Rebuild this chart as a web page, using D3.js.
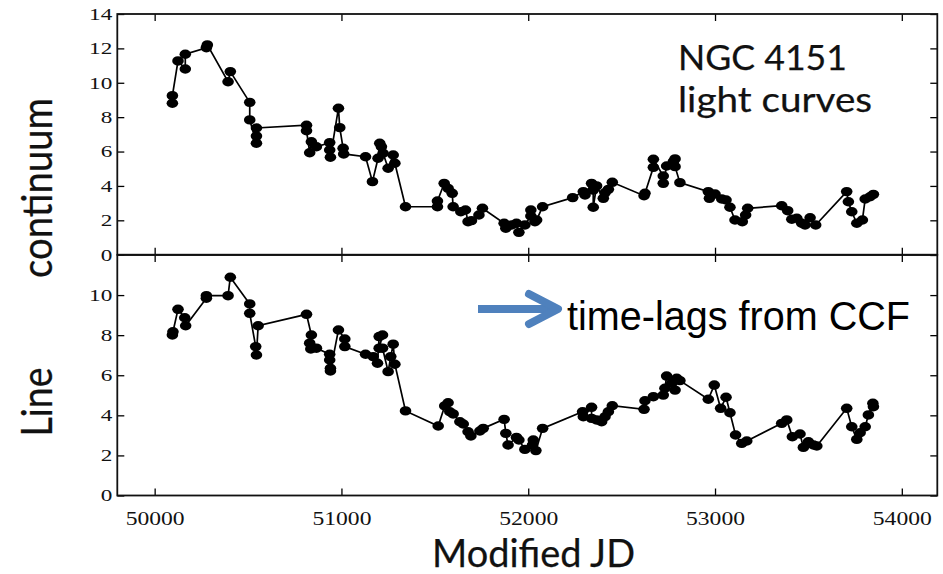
<!DOCTYPE html>
<html>
<head>
<meta charset="utf-8">
<script src="https://cdn.jsdelivr.net/npm/d3@7"></script>
<style>
  html, body { margin: 0; padding: 0; background: #fff; }
  svg { display: block; }
</style>
</head>
<body>
<svg id="chart" width="943" height="574"></svg>
<script>
// ---------- data ----------
const contMJD = [50095,50095,50125,50164,50164,50277,50282,50393,50405,50509,50509,50545,50545,50545,
  50813,50813,50830,50839,50866,50937,50937,50941,50984,50991,51009,51012,51129,51166,51196,51205,
  51214,51223,51250,51277,51286,51343,51514,51514,51550,51571,51593,51598,51639,51664,51678,51696,
  51736,51755,51871,51880,51911,51937,51950,51982,52014,52014,52036,52045,52077,52238,52295,52304,
  52339,52348,52348,52366,52402,52411,52429,52450,52620,52625,52670,52670,52723,52723,52741,52777,
  52786,52786,52812,52964,52970,53000,53036,53059,53080,53107,53146,53164,53175,53357,53389,53411,
  53438,53464,53482,53509,53539,53705,53714,53732,53759,53789,53804,53830,53848];
const contFlux = [8.81,9.25,11.27,10.8,11.66,12.04,12.2,10.06,10.65,8.86,7.84,6.48,6.9,7.37,
  7.53,7.21,5.93,6.57,6.28,6.52,6.09,5.67,8.52,7.39,6.19,5.86,5.7,4.25,5.61,6.48,
  6.28,5.9,5.03,5.8,5.32,2.79,2.79,3.12,4.15,3.86,3.57,2.79,2.5,2.6,1.92,1.98,
  2.31,2.7,1.83,1.54,1.73,1.83,1.3,1.73,2.25,2.6,1.92,2.02,2.79,3.32,3.67,3.47,
  4.15,3.76,2.76,4.0,3.28,3.6,3.8,4.21,3.43,3.57,5.08,5.55,4.58,4.15,5.16,5.41,
  5.57,5.12,4.19,3.67,3.28,3.53,3.24,3.18,2.76,2.02,1.92,2.31,2.7,2.85,2.56,2.06,
  2.12,1.83,1.73,2.15,1.73,3.67,3.08,2.5,1.83,2.02,3.24,3.37,3.51];

const lineMJD = [50095,50098,50125,50161,50166,50277,50277,50393,50405,50509,50509,50541,50545,50554,
  50813,50839,50830,50836,50866,50937,50937,50941,50941,50984,51018,51018,51129,51170,51193,51202,
  51220,51202,51220,51250,51264,51277,51286,51343,51518,51553,51571,51580,51598,51634,51652,51678,
  51693,51741,51759,51871,51880,51892,51937,51950,51982,52023,52027,52041,52077,52291,52295,52339,
  52339,52366,52393,52411,52429,52450,52620,52625,52670,52723,52732,52741,52768,52786,52795,52812,
  52964,52996,53030,53059,53080,53110,53143,53170,53357,53384,53414,53455,53473,53500,53527,53545,
  53705,53732,53759,53777,53804,53821,53845,53848];
const lineFlux = [8.01,8.17,9.29,8.87,8.47,9.84,9.97,9.97,10.89,9.56,9.09,7.43,7.01,8.47,
  9.04,8.01,7.6,7.31,7.35,7.05,6.76,6.35,6.21,8.26,7.81,7.43,7.05,6.93,6.6,7.93,
  8.01,7.35,7.35,6.18,6.93,7.55,6.55,4.22,3.47,4.47,4.63,4.18,4.07,3.68,3.57,3.18,
  2.97,3.22,3.35,3.8,3.1,2.52,2.9,2.77,2.3,2.52,2.77,2.24,3.35,4.18,3.93,4.4,
  3.85,3.77,3.68,3.93,4.18,4.48,4.3,4.73,4.93,5.01,5.35,5.96,5.6,5.26,5.85,5.73,
  4.8,5.51,4.35,4.9,4.13,3.02,2.6,2.72,3.6,3.77,2.93,3.07,2.4,2.68,2.52,2.47,
  4.35,3.43,2.8,3.13,3.43,4.02,4.6,4.43];

const xTicks = [50000, 51000, 52000, 53000, 54000];
const topYTicks = [0, 2, 4, 6, 8, 10, 12, 14];
const botYTicks = [0, 2, 4, 6, 8, 10];
const botYMinorTicks = [0, 2, 4, 6, 8, 10, 12];

// ---------- layout ----------
const svg = d3.select("#chart");
const L = 117.3, R = 937.3;
const topP = {y0: 14, y1: 254.7};
const botP = {y0: 255, y1: 495.5};

const x = d3.scaleLinear().domain([49800, 54190]).range([L, R]);
const yTop = d3.scaleLinear().domain([0, 14]).range([topP.y1, topP.y0]);
const yBot = d3.scaleLinear().domain([0, 12]).range([botP.y1, botP.y0]);

svg.append("rect").attr("width", 943).attr("height", 574).attr("fill", "#fff");

const tickFont = "'Liberation Serif', 'Times New Roman', serif";
function styleTicks(g, charW, size) {
  g.select(".domain").remove();
  g.selectAll(".tick line").attr("stroke", "#000").attr("stroke-width", 1.3);
  g.selectAll(".tick text")
    .attr("fill", "#111")
    .style("font-family", tickFont)
    .style("font-size", size + "px")
    .each(function() {
      const t = d3.select(this);
      const s = t.text();
      if (s.length) t.attr("textLength", s.length * charW).attr("lengthAdjust", "spacingAndGlyphs");
    });
}

function panel(yScale, p, yTicks, rightTicks, data, showX) {
  svg.append("g").attr("transform", `translate(${L},0)`)
    .call(d3.axisLeft(yScale).tickValues(yTicks).tickSizeInner(-7).tickSizeOuter(0).tickPadding(5).tickFormat(d3.format("d")))
    .call(g => styleTicks(g, 11.6, 17));
  svg.append("g").attr("transform", `translate(${R},0)`)
    .call(d3.axisRight(yScale).tickValues(rightTicks).tickSizeInner(-7).tickSizeOuter(0).tickFormat(""))
    .call(g => styleTicks(g, 11.6, 17));
  svg.append("g").attr("transform", `translate(0,${p.y0})`)
    .call(d3.axisTop(x).tickValues(xTicks).tickSizeInner(-7).tickSizeOuter(0).tickFormat(""))
    .call(g => styleTicks(g, 11.6, 17));
  svg.append("g").attr("transform", `translate(0,${p.y1})`)
    .call(d3.axisBottom(x).tickValues(xTicks).tickSizeInner(-7).tickSizeOuter(0).tickPadding(17)
      .tickFormat(showX ? d3.format("d") : ""))
    .call(g => styleTicks(g, 11.8, 18));

  const pts = data.mjd.map((m, i) => [m, data.flux[i]]);
  svg.append("path")
    .datum(pts)
    .attr("fill", "none")
    .attr("stroke", "#000")
    .attr("stroke-width", 1.7)
    .attr("d", d3.line().x(d => x(d[0])).y(d => yScale(d[1])));
  svg.append("g").selectAll("ellipse")
    .data(pts)
    .join("ellipse")
    .attr("cx", d => x(d[0]))
    .attr("cy", d => yScale(d[1]))
    .attr("rx", 5.8)
    .attr("ry", 4.7)
    .attr("fill", "#000");

  svg.append("rect")
    .attr("x", L).attr("y", p.y0)
    .attr("width", R - L).attr("height", p.y1 - p.y0)
    .attr("fill", "none").attr("stroke", "#111").attr("stroke-width", 1.8);
}

panel(yTop, topP, topYTicks, topYTicks, {mjd: contMJD, flux: contFlux}, false);
panel(yBot, botP, botYTicks, botYMinorTicks, {mjd: lineMJD, flux: lineFlux}, true);

// ---------- labels ----------
const sans = "Lato, 'Open Sans', sans-serif";
function bigText(sel) {
  return sel.style("font-family", sans).attr("fill", "#111")
    .attr("stroke", "#111").attr("stroke-width", 0.25).attr("lengthAdjust", "spacingAndGlyphs");
}
bigText(svg.append("text")
  .attr("transform", "translate(52,188) rotate(-90)")
  .attr("text-anchor", "middle")
  .style("font-size", "42px")
  .attr("textLength", 180))
  .text("continuum");
bigText(svg.append("text")
  .attr("transform", "translate(52,402) rotate(-90)")
  .attr("text-anchor", "middle")
  .style("font-size", "42px")
  .attr("textLength", 69))
  .text("Line");
bigText(svg.append("text")
  .attr("x", 432).attr("y", 566.5)
  .style("font-size", "38px")
  .attr("textLength", 203))
  .text("Modified JD");
bigText(svg.append("text")
  .attr("x", 678).attr("y", 70)
  .style("font-size", "35px")
  .attr("textLength", 169))
  .text("NGC 4151");
bigText(svg.append("text")
  .attr("x", 678).attr("y", 112)
  .style("font-size", "35px")
  .attr("textLength", 194))
  .text("light curves");

svg.append("text")
  .attr("x", 567).attr("y", 330)
  .style("font-family", "'Liberation Sans', Arial, sans-serif").style("font-size", "41px").attr("fill", "#000")
  .attr("textLength", 343).attr("lengthAdjust", "spacingAndGlyphs")
  .text("time-lags from CCF");

// arrow
const arrowColor = "#4f81bd";
svg.append("line")
  .attr("x1", 478).attr("y1", 309).attr("x2", 556).attr("y2", 309)
  .attr("stroke", arrowColor).attr("stroke-width", 8).attr("stroke-linecap", "butt");
svg.append("path")
  .attr("d", "M529,294 L558,309 L529,324")
  .attr("fill", "none").attr("stroke", arrowColor).attr("stroke-width", 8)
  .attr("stroke-linecap", "round").attr("stroke-linejoin", "round");
</script>
</body>
</html>
